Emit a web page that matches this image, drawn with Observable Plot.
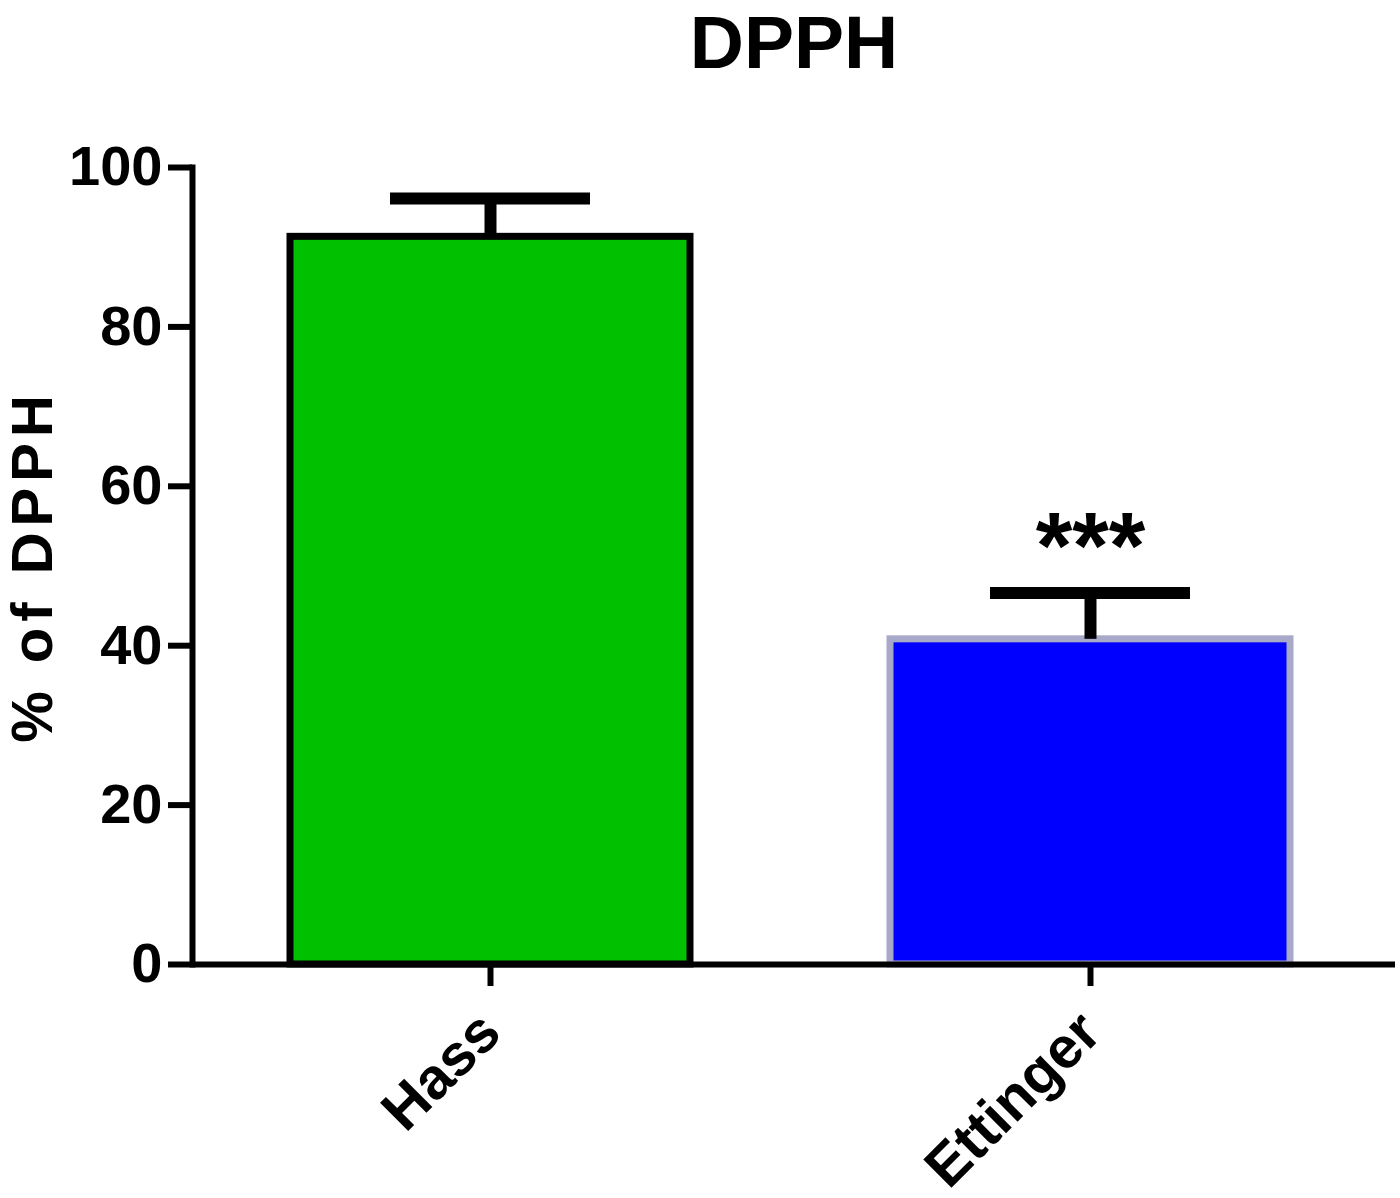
<!DOCTYPE html>
<html><head>
<meta charset="utf-8">
<script src="https://cdn.jsdelivr.net/npm/d3@7"></script>
<script src="https://cdn.jsdelivr.net/npm/@observablehq/plot@0.6"></script>
<style>
body{margin:0;background:#fff} svg{display:block}
</style>
</head><body><div id="chart"></div>
<script>
const categories = ["Hass", "Ettinger"];
const means = [91.3, 40.8];
const errors = [4.8, 5.8];
const fills = ["#00c000", "#0000ff"];
const strokes = ["#000000", "#a8a8c8"];
const significance = ["", "***"];
const yTicks = [0, 20, 40, 60, 80, 100];
const title = "DPPH";
const yLabel = "% of DPPH";

const data = categories.map((c, i) => ({
  category: c, mean: means[i], top: means[i] + errors[i],
  fill: fills[i], stroke: strokes[i], sig: significance[i]
}));

const font = "Liberation Sans, Arial, sans-serif";

const plot = Plot.plot({
  width: 1400,
  height: 1198,
  marginLeft: 192,
  marginRight: 5,
  marginTop: 167,
  marginBottom: 234,
  style: {fontFamily: font, fontWeight: "bold", color: "#000", background: "#fff"},
  x: {domain: categories, range: [190, 1390], padding: 0},
  y: {domain: [0, 100]},
  color: {type: "identity"},
  marks: [
    Plot.barY(data, {x: "category", y: "mean", fill: "fill", stroke: "stroke", strokeWidth: 7, insetLeft: 100, insetRight: 100}),
    Plot.ruleX(data, {x: "category", y1: "mean", y2: "top", stroke: "#000", strokeWidth: 12}),
    Plot.tickY(data, {x: "category", y: "top", stroke: "#000", strokeWidth: 12, insetLeft: 200, insetRight: 200}),
    Plot.text(data, {x: "category", y: "top", text: "sig", dy: -45, fontSize: 94, fontWeight: "bold", fill: "#000"}),
    Plot.ruleY([0], {stroke: "#000", strokeWidth: 6}),
    Plot.frame({anchor: "left", stroke: "#000", strokeWidth: 6}),
    Plot.axisY({ticks: yTicks, tickSize: 24, tickPadding: 6, fontSize: 56, fontWeight: "bold", strokeWidth: 6, label: null}),
    Plot.axisX({tickSize: 22, tickRotate: -45, fontSize: 58, fontWeight: "bold", strokeWidth: 6, label: null, tickPadding: 36}),
    Plot.text([yLabel], {frameAnchor: "left", text: d => d, rotate: -90, textAnchor: "middle", dx: -159, fontSize: 58, fontWeight: "bold", fill: "#000"}),
    Plot.text([title], {frameAnchor: "top", text: d => d, lineAnchor: "bottom", dy: -100, fontSize: 75, fontWeight: "bold", fill: "#000"})
  ]
});
d3.select(plot).selectAll("text")
  .filter(function() { return this.textContent === yLabel; })
  .style("letter-spacing", "6px");
document.getElementById("chart").appendChild(plot);
</script>
</body></html>
